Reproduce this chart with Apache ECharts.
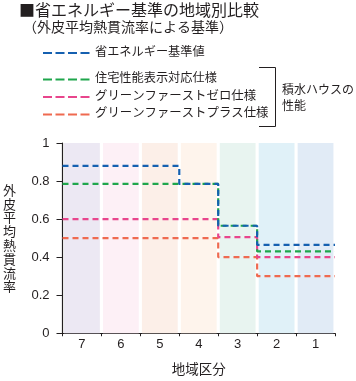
<!DOCTYPE html>
<html><head><meta charset="utf-8">
<script src="https://cdn.jsdelivr.net/npm/echarts@6/dist/echarts.min.js"></script>
<style>html,body{margin:0;padding:0;background:#fff}#c{width:356px;height:381px}</style>
</head><body><div id="c"></div>
<script>
// ---- data ----
var zones = ['7','6','5','4','3','2','1'];
var zoneColors = ['#ece8f3','#fdf0f6','#fcefe8','#fef4ec','#e8f4f0','#e0f1f8','#e1ebf6'];
var bandTop = [1,1,1,1,1,1,1];
var seriesNames = ['省エネルギー基準値','住宅性能表示対応仕様','グリーンファーストゼロ仕様','グリーンファーストプラス仕様'];
var standardVals = [0.88,0.88,0.88,0.785,0.565,0.465,0.465];
var hyoujiVals   = [0.785,0.785,0.785,0.785,0.565,0.43,0.43];
var zeroVals     = [0.6,0.6,0.6,0.6,0.505,0.4,0.4];
var plusVals     = [0.5,0.5,0.5,0.5,0.4,0.3,0.3];
var yTicks = [0,0.2,0.4,0.6,0.8,1];
var lineColors = ['#1560b0','#1fa64c','#e8458c','#ef6a50'];

var FONT = "'Liberation Sans','Noto Sans CJK JP'";
var JP = "'Noto Sans CJK JP'";

function stepPts(v){
  var p = v.map(function(y,i){return [i,y];});
  p.push([v.length, v[v.length-1]]);
  return p;
}
function lineSeries(name, vals, color, z){
  return {
    type:'line', name:name, xAxisIndex:1, yAxisIndex:0, step:'end',
    data: stepPts(vals), showSymbol:false, symbol:'none', z:z, silent:true,
    lineStyle:{color:color, width:2.2, type:[6,4]}
  };
}

var chart = echarts.init(document.getElementById('c'), null, {renderer:'canvas'});
var legendRows = [53, 79.5, 97, 114.5];
var graphics = [
  {type:'text', left:19, top:2, style:{text:'■省エネルギー基準の地域別比較', font:'16px '+JP, fill:'#231f20'}},
  {type:'text', left:23, top:20, style:{text:'（外皮平均熱貫流率による基準）', font:'14px '+JP, fill:'#231f20'}},
  {type:'polyline', shape:{points:[[259,67.5],[275.5,67.5],[275.5,126.5],[259,126.5]]}, style:{stroke:'#231f20', lineWidth:1, fill:null}},
  {type:'text', left:282, top:83, style:{text:'積水ハウスの', font:'12px '+JP, fill:'#231f20'}},
  {type:'text', left:282, top:99, style:{text:'性能', font:'12px '+JP, fill:'#231f20'}}
];
seriesNames.forEach(function(n,i){
  var y = legendRows[i];
  graphics.push({type:'line', shape:{x1:43, y1:y, x2:90, y2:y}, style:{stroke:lineColors[i], lineWidth:2.2, lineDash:[9,3.5]}});
  graphics.push({type:'text', left:95, top:y-8, style:{text:n, font:(i>=2?'12.4px ':'12.2px ')+JP, fill:'#231f20'}});
});

chart.setOption({
  animation:false,
  grid:{left:61, right:21, top:143, bottom:42, containLabel:false},
  xAxis:[
    {type:'category', data:zones, boundaryGap:true,
     name:'地域区分', nameLocation:'middle', nameGap:36,
     nameTextStyle:{fontFamily:JP, fontSize:13.5, color:'#231f20', verticalAlign:'middle'},
     axisLine:{lineStyle:{color:'#231f20', width:1.2}},
     axisTick:{show:true, length:3, lineStyle:{color:'#231f20'}},
     axisLabel:{fontFamily:FONT, fontSize:13, color:'#231f20', margin:5},
     splitLine:{show:false}},
    {type:'value', min:0, max:7, show:false}
  ],
  yAxis:[{type:'value', min:0, max:1, interval:0.2,
    name:'外\n皮\n平\n均\n熱\n貫\n流\n率', nameLocation:'middle', nameGap:53, nameRotate:0,
    nameTextStyle:{fontFamily:JP, fontSize:13, lineHeight:13.8, color:'#231f20', align:'center', verticalAlign:'middle'},
    axisLine:{show:true, lineStyle:{color:'#231f20', width:1.2}},
    axisTick:{show:true, length:6, lineStyle:{color:'#231f20'}},
    axisLabel:{fontFamily:FONT, fontSize:13, color:'#231f20', margin:13,
      formatter:function(v){return String(+v.toFixed(1));}},
    splitLine:{show:false}}],
  series:[
    {type:'bar', xAxisIndex:0, yAxisIndex:0, barWidth:'92%', silent:true, z:1,
     data: bandTop.map(function(v,i){return {value:v, itemStyle:{color:zoneColors[i]}};})},
    lineSeries(seriesNames[3], plusVals, lineColors[3], 3),
    lineSeries(seriesNames[2], zeroVals, lineColors[2], 4),
    lineSeries(seriesNames[1], hyoujiVals, lineColors[1], 5),
    lineSeries(seriesNames[0], standardVals, lineColors[0], 6)
  ],
  graphic: graphics
});
</script></body></html>
